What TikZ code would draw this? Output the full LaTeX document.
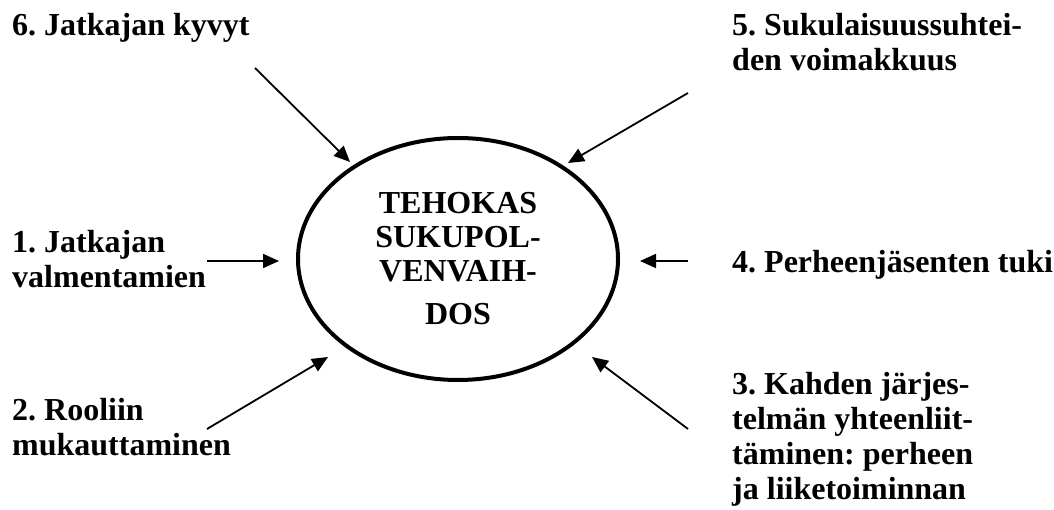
\documentclass[tikz,border=0pt]{standalone}
\usepackage{fontspec}
\setmainfont{Liberation Serif}
\usetikzlibrary{shapes.geometric,arrows.meta}
\frenchspacing
\begin{document}
\begin{tikzpicture}[x=1pt,y=-1pt,
  label text/.style={inner sep=0pt, align=left, font=\fontsize{32}{35}\selectfont\bfseries},
  factor/.style={-{Triangle[length=16pt,width=14pt]}, line width=1.8pt},
  core/.style={ellipse, draw, line width=4pt, inner sep=0pt,
    minimum width=320pt, minimum height=242pt, align=center,
    font=\fontsize{32}{34}\selectfont\bfseries}]
  \useasboundingbox (0,0) rectangle (1054,510);

  % central goal
  \node[core] (c) at (458,259) {TEHOKAS\\SUKUPOL-\\VENVAIH-\\[9pt]DOS};

  % factor labels
  \node[label text, anchor=north west] (t6) at (12,13) {6. Jatkajan kyvyt};
  \node[label text, anchor=north west] (t5) at (732,13) {5. Sukulaisuussuhtei-\\den voimakkuus};
  \node[label text, anchor=north west] (t1) at (12,230) {1. Jatkajan\\valmentamien};
  \node[label text, anchor=base west] (t4) at (732,273) {4. Perheenjäsenten tuki};
  \node[label text, anchor=north west] (t2) at (12,398) {2. Rooliin\\mukauttaminen};
  \node[label text, anchor=north west] (t3) at (732,372) {3. Kahden järjes-\\telmän yhteenliit-\\täminen: perheen\\ja liiketoiminnan};

  % arrow end points
  \coordinate (s6) at (255,68);  \coordinate (e6) at (350,162);
  \coordinate (s5) at (688,93);  \coordinate (e5) at (568,163);
  \coordinate (s1) at (207,261); \coordinate (e1) at (279,261);
  \coordinate (s4) at (688,261); \coordinate (e4) at (640,261);
  \coordinate (s2) at (207,429); \coordinate (e2) at (328,357);
  \coordinate (s3) at (688,429); \coordinate (e3) at (592,357);

  \draw[factor] (s6) -- (e6);
  \draw[factor] (s5) -- (e5);
  \draw[factor] (s1) -- (e1);
  \draw[factor] (s4) -- (e4);
  \draw[factor] (s2) -- (e2);
  \draw[factor] (s3) -- (e3);
\end{tikzpicture}
\end{document}
